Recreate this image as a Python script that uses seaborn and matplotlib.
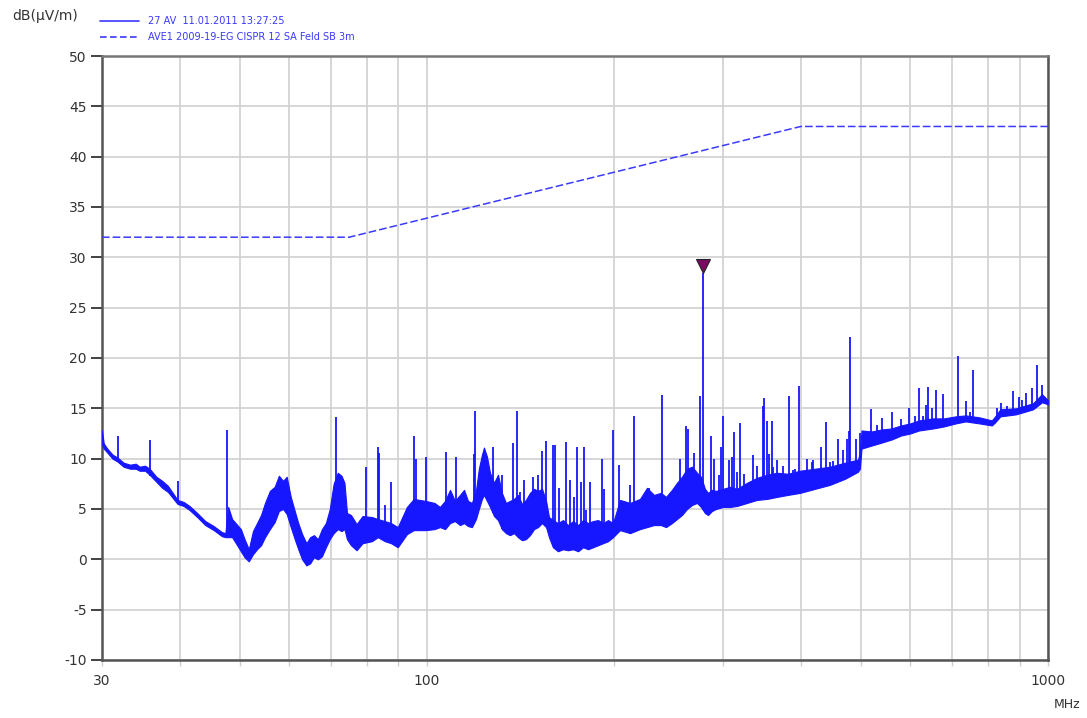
import numpy as np
import matplotlib
matplotlib.use("Agg")
import matplotlib.pyplot as plt
import matplotlib.transforms as mtransforms
from matplotlib.ticker import FixedLocator, NullFormatter
import seaborn as sns

# ---- measured trace: noise floor envelope (MHz, dBuV/m) ----
env_freq = [30.0, 30.2, 30.6, 31.2, 31.8, 32.5, 33.3, 34.0, 34.5, 35.2, 35.8, 36.7,
            37.5, 38.3, 39.0, 39.7, 40.6, 41.5, 42.7, 44.0, 45.4, 46.8, 47.4, 47.9,
            48.6, 49.4, 50.2, 50.9, 51.7, 52.5, 53.3, 54.1, 54.9, 55.9, 56.9, 57.8,
            58.7, 59.5, 60.4, 61.3, 62.1, 63.0, 64.0, 64.9, 65.8, 66.8, 67.8, 68.8,
            69.8, 70.8, 71.9, 72.9, 73.7, 74.4, 75.5, 77.1, 78.8, 81.6, 83.4, 85.6,
            87.6, 89.8, 92.9, 95.3, 99.6, 102.9, 105.0, 107.0, 109.0, 111.0, 113.1,
            114.8, 116.5, 118.2, 120.0, 121.3, 122.7, 123.6, 125.0, 126.4, 128.3,
            130.2, 132.1, 134.1, 136.1, 138.2, 140.2, 142.3, 144.4, 146.6, 148.8,
            151.0, 153.3, 155.6, 157.3, 159.6, 162.6, 165.7, 168.8, 172.0, 175.2,
            178.5, 181.8, 185.2, 188.7, 192.2, 195.8, 199.4, 204.7, 212.4, 220.4,
            226.2, 232.1, 238.2, 242.7, 248.1, 252.8, 257.5, 262.4, 267.3, 272.3,
            276.3, 280.4, 283.6, 287.8, 292.1, 299.8, 307.7, 315.8, 327.7, 340.1,
            352.9, 366.2, 381.5, 398.8, 421.5, 445.8, 471.3, 494.5, 498.0, 501.0,
            520.0, 540.0, 560.0, 580.0, 600.0, 620.0, 653.0, 680.0, 710.0, 737.0,
            776.0, 812.0, 822.0, 838.0, 888.0, 946.0, 978.0, 1000.0]
env_lo = [11.4, 11.0, 10.6, 10.0, 9.7, 9.2, 9.0, 9.0, 8.8, 8.8, 8.4, 7.7,
          7.1, 6.7, 6.1, 5.5, 5.3, 4.9, 4.2, 3.4, 2.9, 2.3, 2.2, 2.2,
          2.2, 1.5, 0.8, 0.2, -0.2, 0.5, 1.0, 1.4, 2.2, 3.0, 3.7, 4.8,
          5.0, 4.5, 3.2, 2.0, 1.0, 0.0, -0.6, -0.4, 0.2, 0.0, 0.3, 1.2,
          2.0, 2.6, 3.0, 2.8, 3.0, 2.0, 1.4, 0.9, 1.6, 1.8, 2.2, 1.8,
          1.6, 1.2, 2.5, 2.9, 2.9, 3.0, 3.2, 3.0, 3.6, 3.8, 3.4,
          3.6, 3.3, 3.2, 4.0, 5.0, 6.0, 6.4, 5.8, 5.2, 4.3,
          3.9, 3.0, 2.6, 2.4, 2.6, 2.2, 1.9, 2.0, 2.4, 3.0,
          3.2, 3.6, 3.2, 2.2, 1.2, 0.8, 1.0, 0.9, 1.0, 0.8,
          1.2, 1.0, 1.2, 1.4, 1.6, 1.8, 2.2, 2.9, 2.6, 3.0,
          3.2, 3.4, 3.4, 3.2, 3.6, 4.0, 4.4, 5.0, 5.4, 5.6,
          5.2, 4.6, 4.4, 4.8, 5.0, 5.2, 5.2, 5.3, 5.6, 5.9,
          6.0, 6.2, 6.4, 6.6, 7.0, 7.4, 8.0, 8.7, 9.0, 11.0,
          11.3, 11.6, 11.9, 12.3, 12.5, 12.8, 13.0, 13.2, 13.5, 13.7,
          13.5, 13.3, 13.6, 14.2, 14.4, 14.9, 15.6, 15.4]
env_hi = [12.8, 11.5, 11.0, 10.4, 10.1, 9.6, 9.4, 9.5, 9.2, 9.3, 9.0, 8.2,
          7.8, 7.3, 6.6, 5.9, 5.7, 5.3, 4.6, 3.8, 3.3, 2.7, 2.6, 5.2,
          4.0, 3.5, 3.0, 2.0, 1.0, 2.8, 3.6, 4.4, 5.6, 6.8, 7.2, 8.3,
          7.8, 8.2, 6.2, 4.8, 3.6, 2.5, 1.6, 2.2, 2.4, 2.0, 3.0, 3.6,
          5.0, 7.5, 8.6, 8.3, 7.6, 4.6, 4.4, 3.5, 4.3, 4.2, 4.0, 3.8,
          3.6, 3.2, 5.2, 6.0, 5.8, 5.6, 5.2, 5.8, 6.9, 5.8, 6.4,
          6.9, 5.8, 5.6, 6.8, 9.0, 10.4, 11.1, 10.2, 8.6, 7.6,
          8.4, 6.6, 5.6, 5.8, 6.0, 6.4, 5.5, 5.9, 6.6, 7.0,
          6.8, 7.0, 5.8, 4.2, 3.9, 3.6, 3.9, 3.4, 3.8, 3.4,
          3.9, 3.6, 3.8, 3.9, 3.6, 3.9, 3.6, 5.9, 5.6, 6.0,
          7.1, 6.4, 6.6, 6.2, 6.9, 7.6, 8.2, 9.0, 9.2, 8.6,
          8.2, 7.0, 6.6, 6.9, 6.8, 7.0, 7.2, 7.0, 7.6, 8.1,
          8.4, 8.6, 8.5, 8.8, 9.0, 9.2, 9.6, 9.9, 10.6, 12.8,
          12.7, 12.9, 13.0, 13.3, 13.5, 13.8, 14.0, 14.0, 14.2, 14.3,
          14.1, 13.8, 14.2, 14.9, 15.0, 15.5, 16.4, 15.8]

# ---- narrowband emissions rising above the floor ----
spike_freq = [31.8, 35.9, 39.7, 47.6, 71.3, 79.7, 83.4, 83.9, 85.6, 87.6, 95.3,
              96.0, 99.6, 107.2, 111.3, 119.0, 119.6, 127.6, 132.0, 137.5, 139.6,
              141.1, 143.2, 148.0, 151.0, 153.5, 155.4, 159.4, 160.7, 163.4, 167.4,
              169.9, 172.9, 174.4, 177.1, 178.9, 180.6, 183.0, 191.3, 192.7, 199.3,
              203.8, 212.3, 215.5, 227.8, 239.1, 255.5, 261.4, 263.4, 269.1, 275.2,
              278.4, 286.6, 289.8, 295.7, 298.1, 299.8, 306.8, 309.5, 312.2, 315.4,
              319.2, 324.0, 335.0, 339.8, 347.6, 348.9, 352.8, 355.4, 359.4, 361.2,
              366.1, 374.3, 382.7, 388.4, 391.6, 397.5, 409.1, 416.5, 418.3, 430.9,
              439.0, 445.8, 450.6, 459.0, 467.6, 474.6, 477.7, 479.9, 490.7, 498.0,
              518.7, 530.4, 540.3, 560.7, 579.7, 597.1, 610.8, 619.6, 629.0, 636.4,
              640.7, 650.2, 660.0, 677.3, 716.1, 737.6, 748.9, 757.1, 826.8, 840.0,
              858.0, 878.3, 898.0, 907.1, 921.6, 942.3, 960.0, 977.9]
spike_peak = [12.3, 11.9, 7.8, 12.8, 14.1, 9.2, 11.2, 10.6, 5.4, 7.7, 12.3,
              10.0, 10.2, 10.7, 10.2, 10.5, 14.7, 11.2, 8.4, 11.6, 14.7,
              6.7, 7.9, 8.2, 8.4, 10.8, 11.8, 11.4, 11.4, 7.1, 11.7,
              7.9, 6.2, 11.2, 7.7, 11.2, 4.9, 7.7, 10.0, 7.0, 12.8,
              9.4, 7.4, 14.2, 7.1, 16.3, 10.0, 13.2, 12.9, 10.6, 16.2,
              28.4, 12.3, 10.0, 8.4, 11.2, 14.2, 9.9, 10.2, 12.6, 8.7,
              13.5, 8.5, 10.4, 9.3, 15.2, 16.0, 13.7, 10.5, 13.7, 9.2,
              9.9, 9.3, 16.2, 8.9, 9.0, 17.2, 10.0, 9.7, 9.9, 11.2,
              13.6, 9.7, 9.8, 12.0, 10.9, 12.0, 12.7, 22.1, 12.0, 12.5,
              14.9, 13.3, 14.0, 14.6, 13.9, 15.0, 14.2, 17.0, 14.2, 15.3,
              17.1, 15.0, 16.8, 16.4, 20.2, 15.7, 14.6, 18.8, 15.0, 15.5,
              15.2, 16.7, 16.1, 15.8, 16.5, 17.0, 19.3, 17.3]

# ---- limit line AVE1 (2009/19/EG, CISPR 12, 3 m) ----
limit_freq = [30.0, 75.0, 400.0, 1000.0]
limit_level = [32.0, 32.0, 43.0, 43.0]

marker_freq = 278.4
marker_level = 28.4

legend_labels = ["27 AV  11.01.2011 13:27:25",
                 "AVE1 2009-19-EG CISPR 12 SA Feld SB 3m"]
y_ticks = list(range(-10, 55, 5))
x_major = [30, 100, 1000]
x_minor = [40, 50, 60, 70, 80, 90, 200, 300, 400, 500, 600, 700, 800, 900]

assert len(env_freq) == len(env_lo) == len(env_hi)
assert len(spike_freq) == len(spike_peak)

sns.set_theme(style="white")
plt.rcParams["font.family"] = ["DejaVu Sans"]

TRACE = "#1616ff"
LIMIT = "#3a3aff"
GRID = "#d0d0d0"
AXIS = "#555555"

fig = plt.figure(figsize=(10.87, 7.18), dpi=100)
ax = fig.add_axes([0.0938, 0.0808, 0.8703, 0.8412])

# noise floor band
ax.fill_between(env_freq, env_lo, env_hi, color=TRACE, linewidth=0.8,
                edgecolor=TRACE, zorder=3)

# narrowband spikes, rising out of the band
logf = np.log10(env_freq)
base = np.interp(np.log10(spike_freq), logf, env_lo)
ax.vlines(spike_freq, base, spike_peak, color=TRACE, linewidth=1.3, zorder=3)

# limit line
limit_df = {"f": limit_freq, "L": limit_level}
sns.lineplot(x="f", y="L", data=limit_df, ax=ax, color=LIMIT, linewidth=1.1,
             linestyle=(0, (5, 2)), zorder=4)

# peak marker, tip placed on the maximum
mk_trans = mtransforms.offset_copy(ax.transData, fig=fig, x=0, y=5.0, units="points")
ax.plot([marker_freq], [marker_level], marker="v", markersize=10,
        markerfacecolor="#7a0a62", markeredgecolor="#222222", markeredgewidth=0.8,
        linestyle="none", transform=mk_trans, zorder=6)

ax.set_xscale("log")
ax.set_xlim(30, 1000)
ax.set_ylim(-10, 50)

ax.xaxis.set_major_locator(FixedLocator(x_major))
ax.xaxis.set_minor_locator(FixedLocator(x_minor))
ax.xaxis.set_minor_formatter(NullFormatter())
ax.set_xticklabels([str(v) for v in x_major])
ax.set_yticks(y_ticks)
ax.set_yticklabels([str(v) for v in y_ticks])

ax.grid(which="both", axis="both", color=GRID, linewidth=1.2, zorder=0)
ax.set_axisbelow(True)

ax.tick_params(axis="y", which="major", direction="out", length=8, width=1.2,
               color="#222222", left=True, labelsize=10, labelcolor="#333333", pad=3)
ax.tick_params(axis="x", which="both", direction="out", length=4, width=1.0,
               color=GRID, bottom=True, labelsize=10, labelcolor="#333333", pad=6)

for side in ["left", "bottom", "right", "top"]:
    ax.spines[side].set_visible(True)
    ax.spines[side].set_color(AXIS)
    ax.spines[side].set_linewidth(1.8)
ax.spines["top"].set_color("#777777")
ax.set_xlabel("")
ax.set_ylabel("")

# axis captions
fig.text(12 / 1087, 1 - 16 / 718, "dB(\u00b5V/m)", fontsize=10, color="#333333",
         ha="left", va="center")
fig.text(1080 / 1087, 1 - 705 / 718, "MHz", fontsize=9, color="#333333",
         ha="right", va="center")

# legend drawn as header lines
for i, (lab, ls) in enumerate(zip(legend_labels, ["-", (0, (4, 2))])):
    yy = 1 - (21 + 16 * i) / 718
    fig.add_artist(plt.Line2D([100 / 1087, 139 / 1087], [yy, yy], color=LIMIT,
                              linewidth=1.2, linestyle=ls, transform=fig.transFigure))
    fig.text(148 / 1087, yy, lab, fontsize=7, color="#3a3aff", ha="left", va="center")

fig.savefig("out.png", dpi=100)
